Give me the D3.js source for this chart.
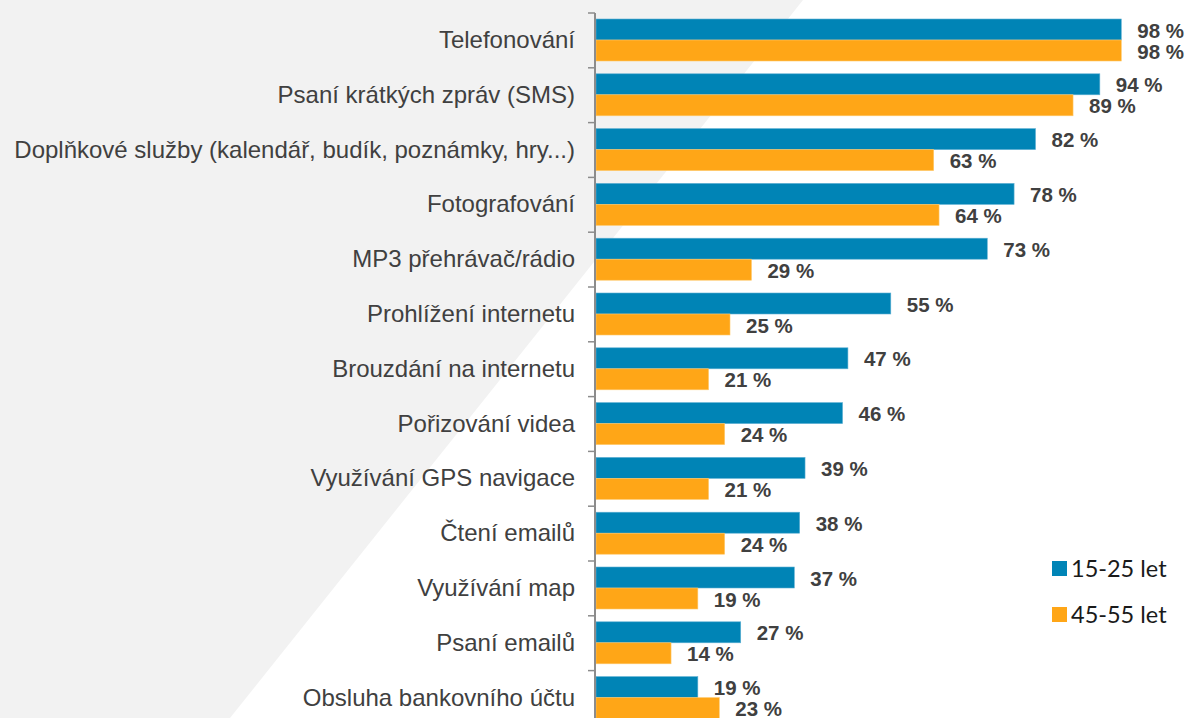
<!DOCTYPE html>
<html>
<head>
<meta charset="utf-8">
<script src="https://cdn.jsdelivr.net/npm/d3@7"></script>
<style>
  html, body { margin: 0; padding: 0; background: #ffffff; }
  svg { display: block; }
</style>
</head>
<body>
<svg id="chart" width="1187" height="718"></svg>
<script>
// Activities, top to bottom
const categories = [
  "Telefonování",
  "Psaní krátkých zpráv (SMS)",
  "Doplňkové služby (kalendář, budík, poznámky, hry...)",
  "Fotografování",
  "MP3 přehrávač/rádio",
  "Prohlížení internetu",
  "Brouzdání na internetu",
  "Pořizování videa",
  "Využívání GPS navigace",
  "Čtení emailů",
  "Využívání map",
  "Psaní emailů",
  "Obsluha bankovního účtu"
];
const seriesNames = ["15-25 let", "45-55 let"];
const young = [98, 94, 82, 78, 73, 55, 47, 46, 39, 38, 37, 27, 19];
const older = [98, 89, 63, 64, 29, 25, 21, 24, 21, 24, 19, 14, 23];
const colors = ["#0084b6", "#ffa617"];

const rows = categories.map((c, i) => ({ cat: c, values: [young[i], older[i]] }));

const svg = d3.select("#chart");
const W = 1187, H = 718;
const FONT = "Liberation Sans, Arial, Helvetica, sans-serif";

// light grey diagonal backdrop on the left
svg.append("path")
  .attr("d", `M0,0 L803,0 L230,${H} L0,${H} Z`)
  .attr("fill", "#f2f2f2");

const x = d3.scaleLinear().domain([0, 100]).range([596, 1132]);
const step = 54.8;
const y = d3.scaleBand().domain(categories).range([13, 13 + step * categories.length]).padding(0);
const ySub = d3.scaleBand().domain(seriesNames).range([6, 48]).padding(0);

// bars
const groups = svg.append("g").selectAll("g")
  .data(rows).join("g")
  .attr("transform", d => `translate(0,${y(d.cat)})`);

groups.selectAll("rect")
  .data(d => d.values.map((v, k) => ({ v, k })))
  .join("rect")
  .attr("x", x(0))
  .attr("y", d => ySub(seriesNames[d.k]))
  .attr("width", d => x(d.v) - x(0))
  .attr("height", ySub.bandwidth())
  .attr("fill", d => colors[d.k])
  .attr("stroke", d => d.k === 0 ? "#5fb0d3" : "#ffc86a")
  .attr("stroke-width", 0.6);

// value labels
groups.selectAll("text.val")
  .data(d => d.values.map((v, k) => ({ v, k })))
  .join("text")
  .attr("class", "val")
  .attr("x", d => x(d.v) + 16)
  .attr("y", d => ySub(seriesNames[d.k]) + ySub.bandwidth() / 2 + 1)
  .attr("dy", "0.35em")
  .style("font-family", FONT)
  .style("font-weight", "bold")
  .style("font-size", "20.5px")
  .attr("fill", "#404040")
  .text(d => d.v + " %");

// category axis
const axis = d3.axisLeft(y).tickSize(0).tickPadding(20);
const ax = svg.append("g").attr("transform", `translate(595,0)`).call(axis);
ax.select(".domain").remove();
ax.selectAll("text")
  .style("font-family", FONT)
  .style("font-size", "24px")
  .attr("fill", "#404040");

svg.append("line")
  .attr("x1", 595).attr("x2", 595)
  .attr("y1", 13).attr("y2", H)
  .attr("stroke", "#8c8c8c").attr("stroke-width", 2);

// tick marks at category boundaries
const bounds = categories.map(c => y(c));
svg.append("g").selectAll("line")
  .data(bounds).join("line")
  .attr("x1", 588).attr("x2", 595)
  .attr("y1", d => d).attr("y2", d => d)
  .attr("stroke", "#8c8c8c").attr("stroke-width", 1.5);

// legend
const legend = svg.append("g").selectAll("g")
  .data(seriesNames).join("g")
  .attr("transform", (d, i) => `translate(1052,${561 + i * 46})`);
legend.append("rect")
  .attr("width", 15).attr("height", 15)
  .attr("fill", (d, i) => colors[i]);
legend.append("text")
  .attr("x", 19).attr("y", 8)
  .attr("dy", "0.36em")
  .style("font-family", "Lato, 'Open Sans', sans-serif")
  .style("font-size", "23.5px")
  .attr("fill", "#1a1a1a")
  .text(d => d);
</script>
</body>
</html>
